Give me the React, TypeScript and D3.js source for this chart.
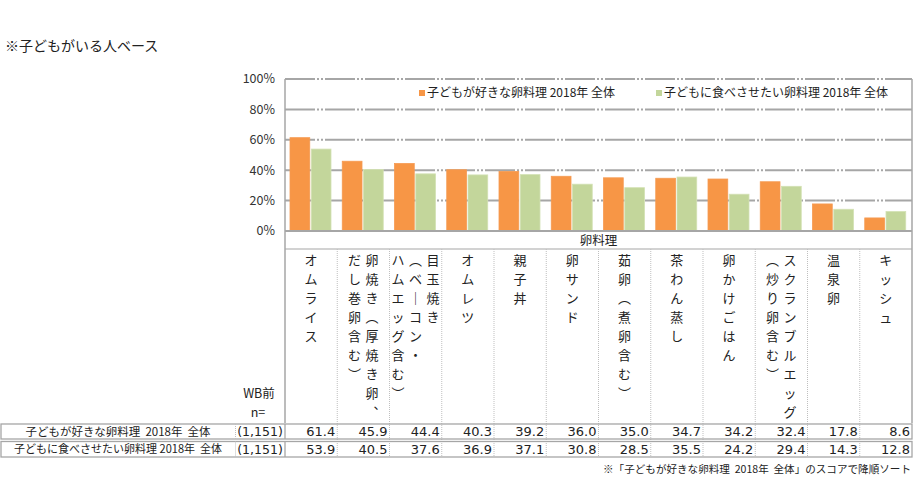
import React from 'react';
import * as d3 from 'd3';

const title = '※子どもがいる人ベース';
const seriesNames = ['子どもが好きな卵料理 2018年 全体', '子どもに食べさせたい卵料理 2018年 全体'];
const rowLabels = ['子どもが好きな卵料理  2018年  全体', '子どもに食べさせたい卵料理 2018年  全体'];
const sampleSizes = ['(1,151)', '(1,151)'];
const headerLabel = '卵料理';
const footnote = '※「子どもが好きな卵料理  2018年  全体」のスコアで降順ソート';

// each category: vertical lines, right to left
const categories = [
  ['オムライス'],
  ['卵焼き（厚焼き卵、', 'だし巻卵含む）'],
  ['目玉焼き', '（ベーコン・', 'ハムエッグ含む）'],
  ['オムレツ'],
  ['親子丼'],
  ['卵サンド'],
  ['茹卵（煮卵含む）'],
  ['茶わん蒸し'],
  ['卵かけごはん'],
  ['スクランブルエッグ', '（炒り卵含む）'],
  ['温泉卵'],
  ['キッシュ'],
];
const liked = [61.4, 45.9, 44.4, 40.3, 39.2, 36.0, 35.0, 34.7, 34.2, 32.4, 17.8, 8.6];
const wanted = [53.9, 40.5, 37.6, 36.9, 37.1, 30.8, 28.5, 35.5, 24.2, 29.4, 14.3, 12.8];
const yTicks = [0, 20, 40, 60, 80, 100];

const colors = ['#F79646', '#C3D69B'];
const FONT = "'Noto Sans CJK JP', 'Noto Sans', sans-serif";
const NUM_FONT = "'DejaVu Sans', sans-serif";
const GRID = '#A6A6A6';

const vertMap: Record<string, string> = { '（': '︵', '）': '︶', '、': '︑', 'ー': '｜' };

export default function App() {
  const left = 285;
  const right = 912;
  const y = d3.scaleLinear().domain([0, 100]).range([231, 79]);
  const x = d3.scaleBand<number>().domain(categories.map((_, i) => i)).range([left, right]);
  const xs = d3.scaleBand<number>().domain([0, 1]).range([5, 46]).paddingInner(0.07);
  const series = [liked, wanted];

  const headTop = 231;
  const headBottom = 249;
  const labelBottom = 423;
  const rows = [
    { top: 424, bottom: 439, labelLen: 185 },
    { top: 441.5, bottom: 457, labelLen: 208 },
  ];

  return (
    <svg width={915} height={481} style={{ position: 'absolute', left: 0, top: 0, fontFamily: FONT }}>
      <rect width={915} height={481} fill="#fff" />
      <text x={5} y={51} fontSize={14} fill="#222">{title}</text>

      {/* grid */}
      {yTicks.filter((t) => t > 0).map((t) => (
        <line key={t} x1={left} x2={right} y1={y(t)} y2={y(t)} stroke={GRID} strokeWidth={2}
          strokeDasharray="30 2 2 2 2 2" />
      ))}
      {yTicks.map((t) => (
        <text key={t} x={275} y={y(t)} dy="0.35em" textAnchor="end" fontSize={12.5} fill="#333">{t}%</text>
      ))}

      {/* legend */}
      {seriesNames.map((s, i) => (
        <g key={s} transform={`translate(${i === 0 ? 419 : 656},93)`}>
          <rect x={0} y={-3} width={6} height={6} fill={colors[i]} />
          <text x={8} y={0} dy="0.35em" fontSize={12} fill="#222">{s}</text>
        </g>
      ))}

      {/* bars */}
      {series.map((vals, si) => vals.map((v, i) => (
        <rect key={`${si}-${i}`} x={x(i)! + xs(si)!} y={y(v)} width={xs.bandwidth()} height={y(0) - y(v)}
          fill={colors[si]} stroke={si === 0 ? '#F59A52' : '#D3E1B4'} strokeWidth={0.8} />
      )))}

      {/* axes / frame */}
      <line x1={left} x2={left} y1={79} y2={labelBottom} stroke={GRID} strokeWidth={1.5} />
      <line x1={right} x2={right} y1={79} y2={labelBottom} stroke={GRID} strokeWidth={1.5} />
      <line x1={left} x2={right} y1={headTop} y2={headTop} stroke={GRID} strokeWidth={2} />
      <line x1={left} x2={right} y1={headBottom} y2={headBottom} stroke={GRID} strokeWidth={1.2} />
      <text x={(left + right) / 2} y={241} dy="0.35em" textAnchor="middle" fontSize={12.5} fill="#222">{headerLabel}</text>

      {/* category label cells */}
      {categories.map((_, i) => i > 0 && (
        <line key={i} x1={x(i)} x2={x(i)} y1={headBottom} y2={rows[1].bottom} stroke="#BFBFBF"
          strokeWidth={1} strokeDasharray="1 1" />
      ))}
      {categories.map((lines, i) => {
        const cx = x(i)! + x.bandwidth() / 2;
        return (
          <g key={i}>
            {lines.map((ln, li) => {
              const lx = cx + ((lines.length - 1) / 2 - li) * 17.5;
              return Array.from(ln).map((ch, ci) => (
                <text key={`${li}-${ci}`} x={lx} y={260 + ci * 19} dy="0.35em" textAnchor="middle"
                  fontSize={13} fill="#222">{vertMap[ch] ?? ch}</text>
              ));
            })}
          </g>
        );
      })}

      <text x={259} y={394} dy="0.35em" textAnchor="middle" fontSize={12.5} fill="#222">WB前</text>
      <text x={258} y={413} dy="0.35em" textAnchor="middle" fontSize={12.5} fill="#222">n=</text>

      {/* table rows */}
      {rows.map((r, ri) => (
        <g key={ri}>
          <rect x={1} y={r.top} width={right - 1} height={r.bottom - r.top} fill="none" stroke={GRID} strokeWidth={1.3} />
          <line x1={235.5} x2={235.5} y1={r.top} y2={r.bottom} stroke="#BFBFBF" strokeDasharray="1 1" />
          <line x1={left} x2={left} y1={r.top} y2={r.bottom} stroke={GRID} strokeWidth={1.3} />
          <text x={118} y={(r.top + r.bottom) / 2} dy="0.36em" textAnchor="middle" fontSize={11.2} fill="#222"
            textLength={r.labelLen} lengthAdjust="spacingAndGlyphs" style={{ whiteSpace: 'pre' }}>{rowLabels[ri]}</text>
          <text x={260} y={(r.top + r.bottom) / 2} dy="0.36em" textAnchor="middle" fontSize={12.5} fill="#222"
            fontFamily={NUM_FONT}>{sampleSizes[ri]}</text>
          {series[ri].map((v, i) => (
            <text key={i} x={x(i)! + x.bandwidth() - 2} y={(r.top + r.bottom) / 2} dy="0.36em" textAnchor="end"
              fontSize={13} fill="#222" fontFamily={NUM_FONT}>{d3.format('.1f')(v)}</text>
          ))}
        </g>
      ))}

      <text x={911} y={469} dy="0.35em" textAnchor="end" fontSize={10.6} fill="#222" textLength={308}
        lengthAdjust="spacingAndGlyphs" style={{ whiteSpace: 'pre' }}>{footnote}</text>
    </svg>
  );
}
